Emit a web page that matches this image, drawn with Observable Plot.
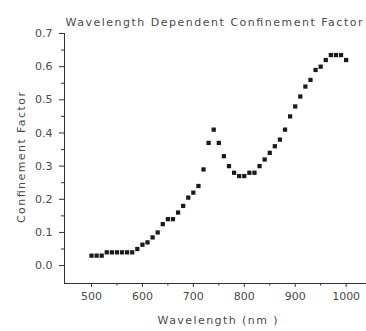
<!DOCTYPE html>
<html>
<head>
<meta charset="utf-8">
<script src="https://cdn.jsdelivr.net/npm/d3@7"></script>
<script src="https://cdn.jsdelivr.net/npm/@observablehq/plot@0.6"></script>
<style>
  html, body { margin: 0; padding: 0; background: #fff; }
</style>
</head>
<body>
<div id="chart"></div>
<script>
const title = "Wavelength Dependent Confinement Factor";
const xLabel = "Wavelength (nm )";
const yLabel = "Confinement Factor";

const wavelengths = [500, 510, 520, 530, 540, 550, 560, 570, 580, 590,
  600, 610, 620, 630, 640, 650, 660, 670, 680, 690,
  700, 710, 720, 730, 740, 750, 760, 770, 780, 790,
  800, 810, 820, 830, 840, 850, 860, 870, 880, 890,
  900, 910, 920, 930, 940, 950, 960, 970, 980, 990, 1000];
const factors = [0.03, 0.03, 0.03, 0.04, 0.04, 0.04, 0.04, 0.04, 0.04, 0.05,
  0.063, 0.07, 0.085, 0.10, 0.125, 0.14, 0.14, 0.16, 0.18, 0.205,
  0.22, 0.24, 0.29, 0.37, 0.41, 0.37, 0.33, 0.30, 0.28, 0.27,
  0.27, 0.28, 0.28, 0.30, 0.32, 0.34, 0.36, 0.38, 0.41, 0.45,
  0.48, 0.51, 0.54, 0.56, 0.59, 0.60, 0.62, 0.635, 0.635, 0.635, 0.62];

const xMajor = [500, 600, 700, 800, 900, 1000];
const xMinor = [550, 650, 750, 850, 950];
const yMajor = [0, 0.1, 0.2, 0.3, 0.4, 0.5, 0.6, 0.7];
const yMinor = [0.05, 0.15, 0.25, 0.35, 0.45, 0.55, 0.65];

const data = wavelengths.map((w, i) => ({w, f: factors[i]}));

const xDomain = [447, 1040];
const yDomain = [-0.054, 0.7];
const textColor = "#4a4a4a";
const axisColor = "#333";

const chart = Plot.plot({
  width: 366,
  height: 331,
  marginLeft: 64,
  marginRight: 0,
  marginTop: 33,
  marginBottom: 48,
  x: {domain: xDomain},
  y: {domain: yDomain},
  style: {fontFamily: "DejaVu Sans, sans-serif", fontSize: "11px", color: textColor, background: "#fff"},
  marks: [
    Plot.ruleY([yDomain[0]], {stroke: axisColor, strokeWidth: 1}),
    Plot.ruleX([xDomain[0]], {stroke: axisColor, strokeWidth: 1}),
    Plot.axisX(xMajor, {tickSize: 4, tickPadding: 5, label: null, tickFormat: d => String(d), stroke: axisColor, fill: textColor}),
    Plot.axisX(xMinor, {tickSize: 2.5, tickFormat: () => "", label: null, stroke: axisColor}),
    Plot.axisY(yMajor, {tickSize: 5, tickPadding: 7, label: null, tickFormat: d3.format(".1f"), stroke: axisColor, fill: textColor}),
    Plot.axisY(yMinor, {tickSize: 3, tickFormat: () => "", label: null, stroke: axisColor}),
    Plot.dot(data, {x: "w", y: "f", symbol: "square", r: 2.4, fill: "#1a1a1a", stroke: null}),
    Plot.text([title], {frameAnchor: "top", dy: -15, dx: -1.5, fill: textColor, fontSize: 11, className: "ttl"}),
    Plot.text([xLabel], {frameAnchor: "bottom", dy: 40, dx: 2, fill: textColor, fontSize: 11, className: "xlab"}),
    Plot.text([yLabel], {frameAnchor: "left", textAnchor: "middle", dx: -43, dy: -1, rotate: -90, fill: textColor, fontSize: 11, className: "ylab"})
  ]
});

document.getElementById("chart").appendChild(chart);

// stretch label texts to the reference's widths
const fit = (cls, len) => {
  d3.select(chart).selectAll("g." + cls + " text")
    .attr("textLength", len).attr("lengthAdjust", "spacing");
};
fit("ttl", 297);
fit("xlab", 120);
fit("ylab", 131);
</script>
</body>
</html>
